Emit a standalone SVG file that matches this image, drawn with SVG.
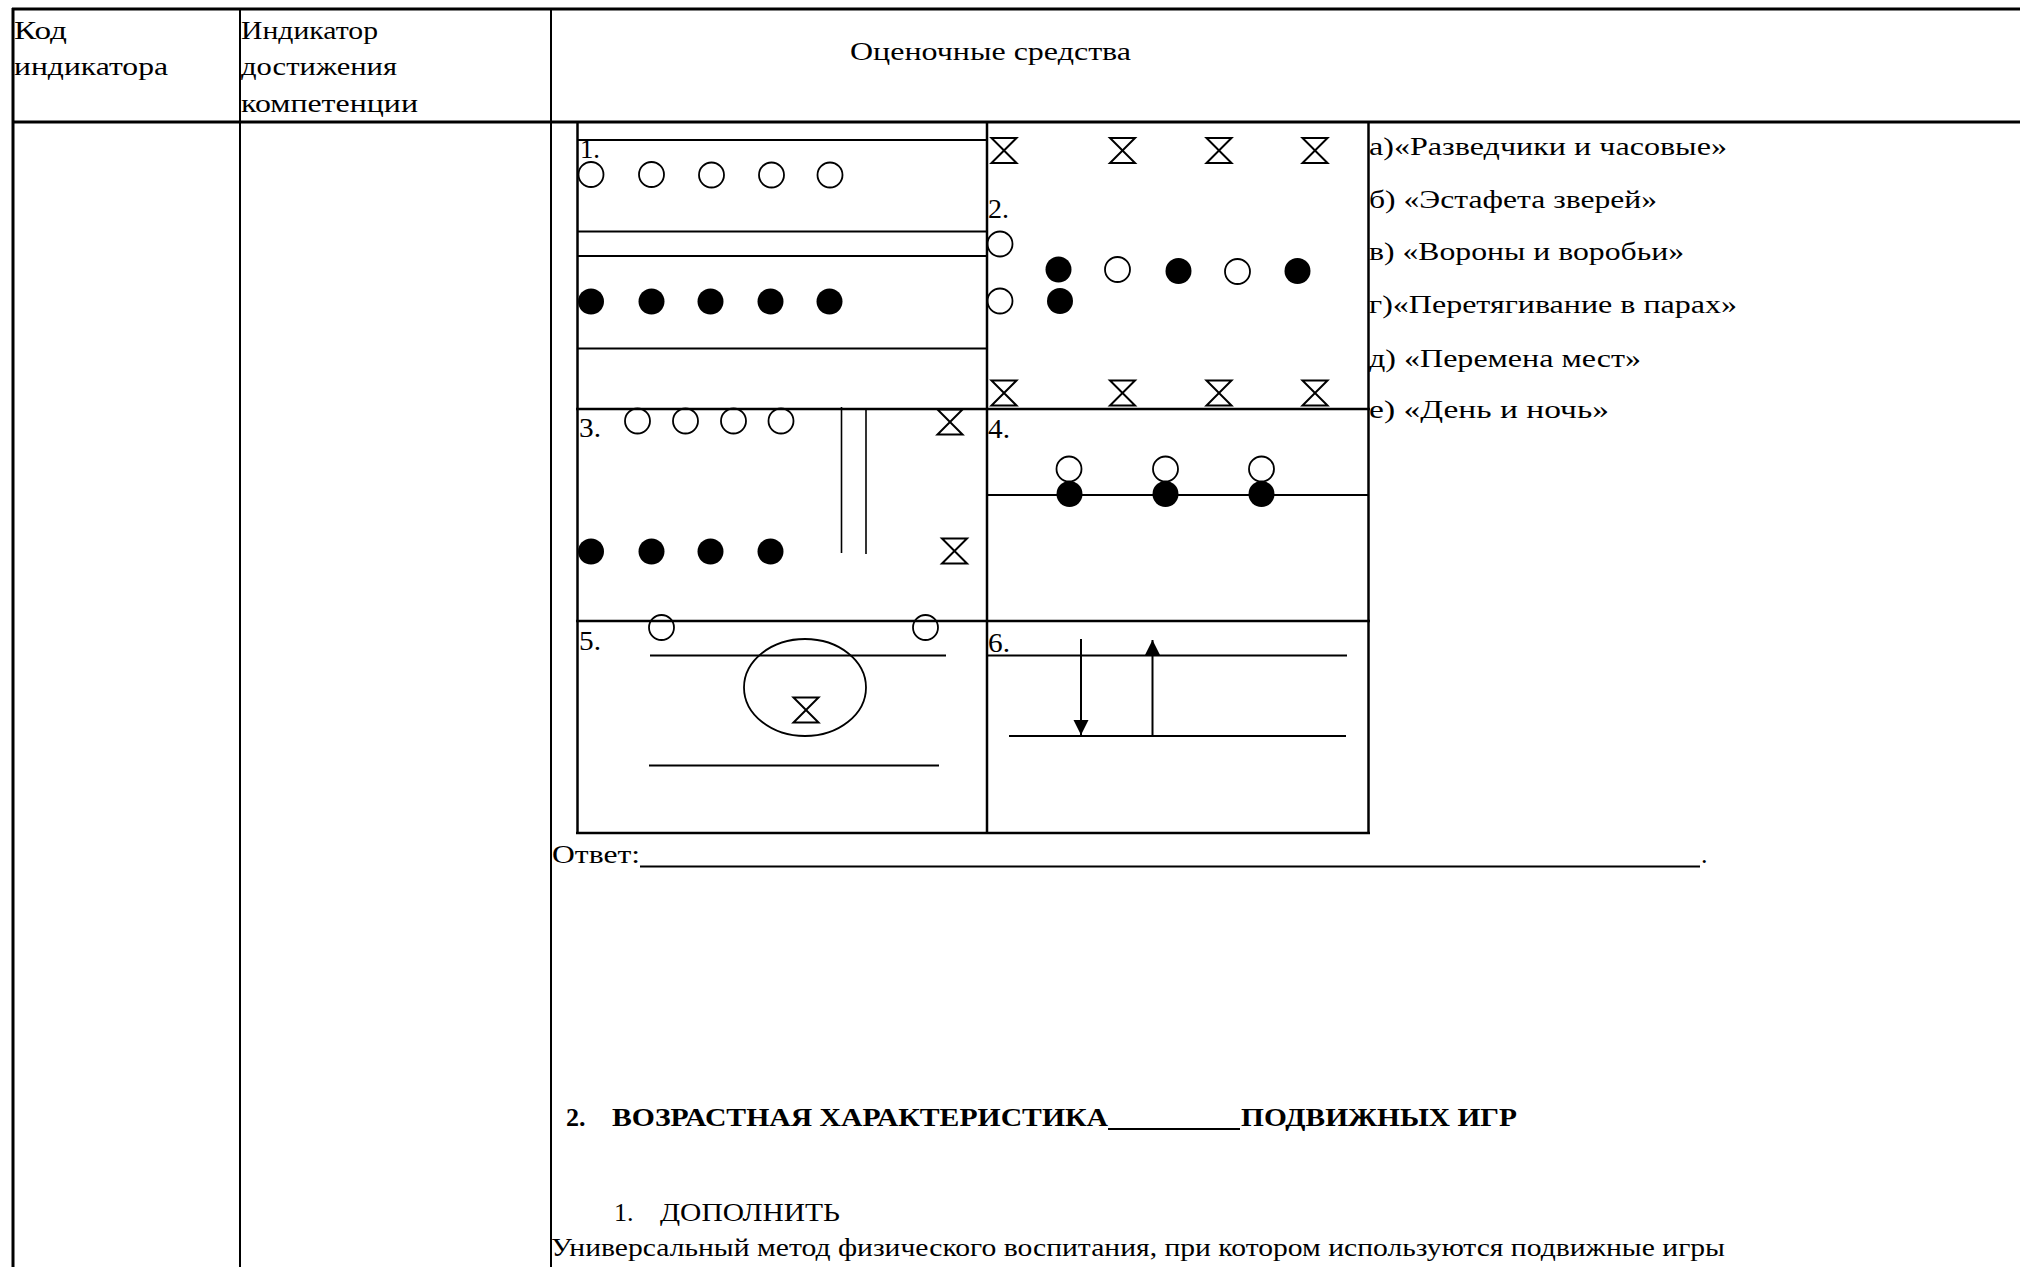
<svg xmlns="http://www.w3.org/2000/svg" xmlns:xlink="http://www.w3.org/1999/xlink" width="2020" height="1267" viewBox="0 0 2020 1267">
<style>
.t{font-family:"Liberation Serif","Times New Roman",serif;font-size:26px;fill:#000}
.lb{font-size:27px}
.b{font-weight:bold}
.tb{stroke:#000;stroke-width:3;fill:none}
.tl{stroke:#000;stroke-width:2;fill:none}
.bx{stroke:#000;stroke-width:2.5;fill:none}
.ln{stroke:#000;stroke-width:2;fill:none}
.thin{stroke:#000;stroke-width:1.6;fill:none}
.oc{fill:none;stroke:#000;stroke-width:1.8}
.fc{fill:#000}
.hg{fill:none;stroke:#000;stroke-width:2;stroke-linejoin:miter}
.ar{stroke:#000;stroke-width:2;fill:none}
</style>
<defs>
<path id="hg" class="hg" d="M-12.5,-12.5 H12.5 L-12.5,12.5 H12.5 Z"/>
<marker id="ah" viewBox="0 0 10 10" refX="10" refY="5" markerUnits="userSpaceOnUse" markerWidth="15" markerHeight="16" orient="auto">
<path d="M0,0 L10,5 L0,10 Z" fill="#000"/>
</marker>
</defs>
<rect width="2020" height="1267" fill="#fff"/>

<g id="table">
<line class="tb" x1="12" y1="9" x2="2020" y2="9"/>
<line class="tb" x1="12" y1="122" x2="2020" y2="122"/>
<line class="tb" x1="13" y1="8" x2="13" y2="1267"/>
<line class="tl" x1="240" y1="8" x2="240" y2="1267"/>
<line class="tl" x1="551" y1="8" x2="551" y2="1267"/>
</g>

<g id="header">
<text class="t" x="14" y="38.5" textLength="53" lengthAdjust="spacingAndGlyphs">Код</text>
<text class="t" x="14" y="75" textLength="154" lengthAdjust="spacingAndGlyphs">индикатора</text>
<text class="t" x="241" y="38.5" textLength="137" lengthAdjust="spacingAndGlyphs">Индикатор</text>
<text class="t" x="241" y="75" textLength="156" lengthAdjust="spacingAndGlyphs">достижения</text>
<text class="t" x="241" y="111.5" textLength="177" lengthAdjust="spacingAndGlyphs">компетенции</text>
<text class="t" x="850" y="60" textLength="281" lengthAdjust="spacingAndGlyphs">Оценочные средства</text>
</g>

<g id="diagram-frame">
<line class="bx" x1="577.5" y1="122" x2="577.5" y2="834"/>
<line class="bx" x1="987" y1="122" x2="987" y2="834"/>
<line class="bx" x1="1368.5" y1="122" x2="1368.5" y2="834"/>
<line class="bx" x1="576" y1="833" x2="1370" y2="833"/>
<line class="bx" x1="576" y1="409" x2="1370" y2="409"/>
<line class="bx" x1="576" y1="621" x2="1370" y2="621"/>
</g>

<g id="panel-1">
<line class="ln" x1="577" y1="140" x2="987" y2="140"/>
<line class="ln" x1="577" y1="231.5" x2="987" y2="231.5"/>
<line class="ln" x1="577" y1="256" x2="987" y2="256"/>
<line class="ln" x1="577" y1="348.5" x2="987" y2="348.5"/>
<text class="t lb" x="580" y="158" textLength="20" lengthAdjust="spacingAndGlyphs">1.</text>
<circle class="oc" cx="591" cy="174.5" r="12.5"/>
<circle class="oc" cx="651.5" cy="174.5" r="12.5"/>
<circle class="oc" cx="711.5" cy="175" r="12.5"/>
<circle class="oc" cx="771.5" cy="175" r="12.5"/>
<circle class="oc" cx="830" cy="175" r="12.5"/>
<circle class="fc" cx="591" cy="301.5" r="13"/>
<circle class="fc" cx="651.5" cy="301.5" r="13"/>
<circle class="fc" cx="710.5" cy="301.5" r="13"/>
<circle class="fc" cx="770.5" cy="301.5" r="13"/>
<circle class="fc" cx="829.5" cy="301.5" r="13"/>
</g>

<g id="panel-2">
<use xlink:href="#hg" x="1004" y="150.5"/>
<use xlink:href="#hg" x="1122.5" y="150.5"/>
<use xlink:href="#hg" x="1219" y="150.5"/>
<use xlink:href="#hg" x="1315" y="150.5"/>
<use xlink:href="#hg" x="1004" y="393"/>
<use xlink:href="#hg" x="1122.5" y="393"/>
<use xlink:href="#hg" x="1219" y="393"/>
<use xlink:href="#hg" x="1315" y="393"/>
<text class="t lb" x="988" y="218" textLength="21" lengthAdjust="spacingAndGlyphs">2.</text>
<circle class="oc" cx="1000" cy="244" r="12.5"/>
<circle class="oc" cx="1000" cy="301" r="12.5"/>
<circle class="fc" cx="1058.5" cy="269.5" r="13"/>
<circle class="fc" cx="1060" cy="301" r="13"/>
<circle class="oc" cx="1117.5" cy="269.5" r="12.5"/>
<circle class="fc" cx="1178.5" cy="271" r="13"/>
<circle class="oc" cx="1237.5" cy="271.5" r="12.5"/>
<circle class="fc" cx="1297.5" cy="271" r="13"/>
</g>

<g id="panel-3">
<text class="t lb" x="579" y="437" textLength="22" lengthAdjust="spacingAndGlyphs">3.</text>
<circle class="oc" cx="637.5" cy="421" r="12.5"/>
<circle class="oc" cx="685.5" cy="421" r="12.5"/>
<circle class="oc" cx="733.5" cy="421" r="12.5"/>
<circle class="oc" cx="781" cy="421" r="12.5"/>
<circle class="fc" cx="591" cy="551.5" r="13"/>
<circle class="fc" cx="651.5" cy="551.5" r="13"/>
<circle class="fc" cx="710.5" cy="551.5" r="13"/>
<circle class="fc" cx="770.5" cy="551.5" r="13"/>
<line class="thin" x1="841.5" y1="407" x2="841.5" y2="553"/>
<line class="thin" x1="866" y1="410" x2="866" y2="554"/>
<use xlink:href="#hg" x="950" y="422"/>
<use xlink:href="#hg" x="954.5" y="551"/>
</g>

<g id="panel-4">
<text class="t lb" x="988" y="438" textLength="22" lengthAdjust="spacingAndGlyphs">4.</text>
<line class="ln" x1="987" y1="495" x2="1368" y2="495"/>
<circle class="oc" cx="1069" cy="469" r="12.5"/>
<circle class="oc" cx="1165.5" cy="469" r="12.5"/>
<circle class="oc" cx="1261.5" cy="469" r="12.5"/>
<circle class="fc" cx="1069.5" cy="494" r="13"/>
<circle class="fc" cx="1165.5" cy="494" r="13"/>
<circle class="fc" cx="1261.5" cy="494" r="13"/>
</g>

<g id="panel-5">
<text class="t lb" x="579" y="650" textLength="22" lengthAdjust="spacingAndGlyphs">5.</text>
<circle class="oc" cx="661.5" cy="627.5" r="12.5"/>
<circle class="oc" cx="925.5" cy="627.5" r="12.5"/>
<line class="ln" x1="650" y1="655.5" x2="946" y2="655.5"/>
<ellipse class="oc" cx="805" cy="687.5" rx="61" ry="48.5"/>
<use xlink:href="#hg" x="806" y="710"/>
<line class="ln" x1="649" y1="765.5" x2="939" y2="765.5"/>
</g>

<g id="panel-6">
<text class="t lb" x="988" y="651.5" textLength="22" lengthAdjust="spacingAndGlyphs">6.</text>
<line class="ln" x1="987" y1="655.5" x2="1347" y2="655.5"/>
<line class="ln" x1="1009" y1="736" x2="1346" y2="736"/>
</g>

<g id="connectors">
<line class="ar" x1="1081" y1="639" x2="1081" y2="735" marker-end="url(#ah)"/>
<line class="ar" x1="1152.5" y1="737" x2="1152.5" y2="640" marker-end="url(#ah)"/>
</g>

<g id="options">
<text class="t" x="1369" y="155" textLength="358" lengthAdjust="spacingAndGlyphs">а)«Разведчики и часовые»</text>
<text class="t" x="1369" y="208" textLength="288" lengthAdjust="spacingAndGlyphs">б) «Эстафета зверей»</text>
<text class="t" x="1369" y="260" textLength="315" lengthAdjust="spacingAndGlyphs">в) «Вороны и воробьи»</text>
<text class="t" x="1369" y="313" textLength="368" lengthAdjust="spacingAndGlyphs">г)«Перетягивание в парах»</text>
<text class="t" x="1369" y="366.5" textLength="272" lengthAdjust="spacingAndGlyphs">д) «Перемена мест»</text>
<text class="t" x="1369" y="418" textLength="240" lengthAdjust="spacingAndGlyphs">е) «День и ночь»</text>
</g>

<g id="answer">
<text class="t" x="552" y="863" textLength="88" lengthAdjust="spacingAndGlyphs">Ответ:</text>
<line class="ln" x1="640" y1="866.5" x2="1700" y2="866.5"/>
<text class="t" x="1701" y="863">.</text>
</g>

<g id="section-2">
<text class="t b" x="566" y="1126">2.</text>
<text class="t b" x="612" y="1126" textLength="496" lengthAdjust="spacingAndGlyphs">ВОЗРАСТНАЯ ХАРАКТЕРИСТИКА</text>
<line class="ln" x1="1108" y1="1129" x2="1240" y2="1129"/>
<text class="t b" x="1241" y="1126" textLength="276" lengthAdjust="spacingAndGlyphs">ПОДВИЖНЫХ ИГР</text>
<text class="t" x="614" y="1221">1.</text>
<text class="t" x="660" y="1221" textLength="180" lengthAdjust="spacingAndGlyphs">ДОПОЛНИТЬ</text>
<text class="t" x="551" y="1256" textLength="1174" lengthAdjust="spacingAndGlyphs">Универсальный метод физического воспитания, при котором используются подвижные игры</text>
</g>
</svg>
